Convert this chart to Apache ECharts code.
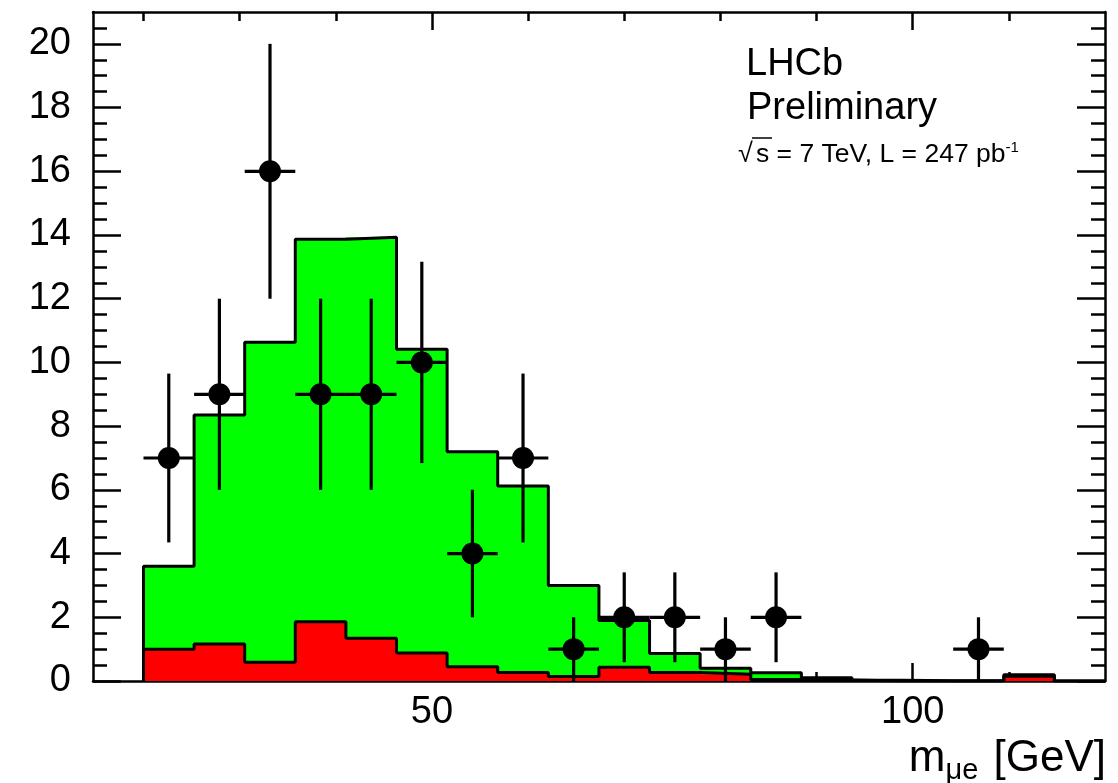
<!DOCTYPE html>
<html>
<head>
<meta charset="utf-8">
<script src="https://cdn.jsdelivr.net/npm/echarts@6/dist/echarts.min.js"></script>
<style>
  html, body { margin: 0; padding: 0; background: #fff; }
  #chart { width: 1118px; height: 783px; }
</style>
</head>
<body>
<div id="chart"></div>
<script>
// histogram binning: 19 bins from 20 to 120 GeV
const binLo = 20, binHi = 120, nBins = 19;
// stacked expectation: total (green drawn on top) and the red component
const totalMC = [3.6, 8.35, 10.63, 13.87, 13.93, 10.41, 7.2, 6.12, 3.0, 1.9, 0.86, 0.4, 0.26, 0.1, 0.02, 0.01, 0.01, 0.2, 0];
const redMC   = [1.0, 1.16, 0.59, 1.86, 1.34, 0.88, 0.45, 0.27, 0.14, 0.43, 0.27, 0.21, 0.05, 0.03, 0, 0, 0, 0.15, 0];
// observed events and errors
const dataCounts = [7, 9, 16, 9, 9, 10, 4, 7, 1, 2, 2, 1, 2, 0, 0, 0, 1, 0, 0];
const dataErrors = [2.65, 3, 4, 3, 3, 3.16, 2, 2.65, 1, 1.41, 1.41, 1, 1.41, 0, 0, 0, 1, 0, 0];
// ticks
const xMajorTicks = [50, 100];
const xMinorTicks = [20, 30, 40, 60, 70, 80, 90, 110];
const yMajorTicks = [0, 2, 4, 6, 8, 10, 12, 14, 16, 18, 20];
const yMinorTicks = [];
for (let v = 0.5; v < 21; v += 0.5) { if (v % 2 !== 0) yMinorTicks.push(v); }

const FONT = 'Liberation Sans, Arial, Helvetica, sans-serif';
const binW = (binHi - binLo) / nBins;
const edge = i => binLo + i * binW;

const greenBins = totalMC.map((v, i) => [edge(i), edge(i + 1), v]);
const redBins = redMC.map((v, i) => [edge(i), edge(i + 1), v]);

function stepData(vals) {
  const d = [[edge(0), 0]];
  vals.forEach((v, i) => d.push([edge(i), v]));
  d.push([binHi, vals[vals.length - 1]]);
  d.push([binHi, 0]);
  return d;
}

const points = [], errBars = [];
dataCounts.forEach((n, i) => {
  if (n <= 0) return;
  const c = (edge(i) + edge(i + 1)) / 2;
  points.push([c, n]);
  errBars.push([c, n, dataErrors[i], edge(i), edge(i + 1)]);
});

function histRect(color) {
  return function (params, api) {
    const a = api.coord([api.value(0), 0]);
    const b = api.coord([api.value(1), api.value(2)]);
    return {
      type: 'rect',
      // 1px overlap so no seams between neighbouring bins
      shape: { x: a[0] - 0.5, y: b[1], width: b[0] - a[0] + 1, height: a[1] - b[1] },
      style: { fill: color }
    };
  };
}

const lineStyle = { color: '#000', width: 2.5 };
const X_MIN = 14.75, X_MAX = 120;

function xAxisDef(pos, ticks, len, mainAxis, labels) {
  return {
    type: 'value', position: pos, min: X_MIN, max: X_MAX,
    axisLine: { show: mainAxis, onZero: false, lineStyle: lineStyle },
    axisTick: { show: true, inside: true, length: len, customValues: ticks, lineStyle: lineStyle },
    axisLabel: labels ? { show: true, customValues: ticks, fontSize: 38, color: '#000', fontFamily: FONT, margin: 13 } : { show: false },
    splitLine: { show: false }
  };
}
function yAxisDef(pos, ticks, len, mainAxis, labels) {
  return {
    type: 'value', position: pos, min: 0, max: 21,
    axisLine: { show: mainAxis, onZero: false, lineStyle: lineStyle },
    axisTick: { show: true, inside: true, length: len, customValues: ticks, lineStyle: lineStyle },
    axisLabel: labels ? { show: true, customValues: ticks, fontSize: 38, color: '#000', fontFamily: FONT, margin: 22 } : { show: false },
    splitLine: { show: false }
  };
}

const chart = echarts.init(document.getElementById('chart'));
chart.setOption({
  animation: false,
  backgroundColor: '#fff',
  grid: { left: 93, right: 13, top: 12, bottom: 102 },
  xAxis: [
    xAxisDef('bottom', xMajorTicks, 18, true, true),
    xAxisDef('bottom', xMinorTicks, 9, false, false),
    xAxisDef('top', xMajorTicks, 18, true, false),
    xAxisDef('top', xMinorTicks, 9, false, false)
  ],
  yAxis: [
    yAxisDef('left', yMajorTicks, 28, true, true),
    yAxisDef('left', yMinorTicks, 14, false, false),
    yAxisDef('right', yMajorTicks, 28, true, false),
    yAxisDef('right', yMinorTicks, 14, false, false)
  ],
  series: [
    { type: 'custom', renderItem: histRect('#00ff00'), data: greenBins, encode: { x: [0, 1], y: 2 }, z: 1 },
    { type: 'custom', renderItem: histRect('#ff0000'), data: redBins, encode: { x: [0, 1], y: 2 }, z: 1 },
    { type: 'line', step: 'end', data: stepData(totalMC), symbol: 'none', lineStyle: { color: '#000', width: 3 }, z: 2 },
    { type: 'line', step: 'end', data: stepData(redMC), symbol: 'none', lineStyle: { color: '#000', width: 3 }, z: 2 },
    {
      type: 'custom', data: errBars, encode: { x: 0, y: 1 }, z: 3,
      renderItem: function (params, api) {
        const c = api.value(0), n = api.value(1), e = api.value(2);
        const top = api.coord([c, n + e]), bot = api.coord([c, n - e]);
        const l = api.coord([api.value(3), n]), r = api.coord([api.value(4), n]);
        return {
          type: 'group', children: [
            { type: 'line', shape: { x1: top[0], y1: top[1], x2: bot[0], y2: bot[1] }, style: { stroke: '#000', lineWidth: 3.2 } },
            { type: 'line', shape: { x1: l[0], y1: l[1], x2: r[0], y2: r[1] }, style: { stroke: '#000', lineWidth: 3.2 } }
          ]
        };
      }
    },
    { type: 'scatter', data: points, symbol: 'circle', symbolSize: 22, itemStyle: { color: '#000', opacity: 1 }, z: 4 }
  ],
  graphic: [
    { type: 'text', x: 746, y: 65, style: { text: 'LHCb', fontSize: 38, fontFamily: FONT, fill: '#000', verticalAlign: 'middle' } },
    { type: 'text', x: 747, y: 109, style: { text: 'Preliminary', fontSize: 38, fontFamily: FONT, fill: '#000', verticalAlign: 'middle' } },
    { type: 'text', x: 738, y: 155, style: { text: '√', fontSize: 27, fontFamily: FONT, fill: '#000', verticalAlign: 'middle' } },
    { type: 'line', shape: { x1: 752, y1: 138, x2: 772, y2: 138 }, style: { stroke: '#000', lineWidth: 1.5 } },
    {
      type: 'text', x: 756, y: 155,
      style: {
        text: '{a|s = 7 TeV, L = 247 pb}{b|-1}', fontFamily: FONT, fill: '#000', verticalAlign: 'middle',
        rich: { a: { fontSize: 26.5, fontFamily: FONT, lineHeight: 30 }, b: { fontSize: 15, fontFamily: FONT, lineHeight: 15, verticalAlign: 'top' } }
      }
    },
    {
      type: 'text', x: 1106, y: 759,
      style: {
        text: '{m|m}{s|μe}{m| [GeV]}', fontFamily: FONT, fill: '#000', align: 'right', verticalAlign: 'middle',
        rich: { m: { fontSize: 44, fontFamily: FONT, lineHeight: 52 }, s: { fontSize: 29, fontFamily: FONT, lineHeight: 29, verticalAlign: 'bottom', padding: [0, 3, 0, 0] } }
      }
    }
  ]
});
</script>
</body>
</html>
